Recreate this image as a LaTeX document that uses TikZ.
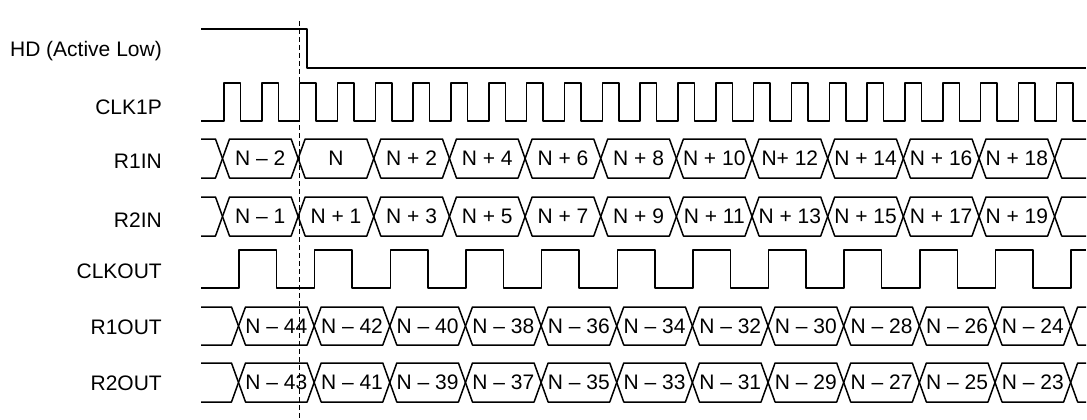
\documentclass[tikz,border=0pt]{standalone}
\usepackage{fontspec}
\setmainfont{Liberation Sans}
\usetikzlibrary{calc}

% one bus row: top, bottom, first crossing, node prefix, labels
\newcommand{\busrow}[5]{%
    \pgfmathsetmacro{\ym}{(#1+#2)/2}
    \draw[wave] (201, #1) -- ({#3-7}, #1) -- (#3, \ym) -- ({#3-7}, #2) -- (201, #2);
    \foreach \lab [count=\k from 0] in {#5} {
        \pgfmathsetmacro{\ca}{#3+75.65*\k}
        \pgfmathsetmacro{\cb}{\ca+75.65}
        \draw[wave] (\ca, \ym) -- ({\ca+7}, #1) -- ({\cb-7}, #1) -- (\cb, \ym) -- ({\cb-7}, #2) -- ({\ca+7}, #2) -- cycle;
        \node[buslbl] at ({(\ca+\cb)/2}, \ym) (#4-\k) {\lab};
    }
    \pgfmathsetmacro{\cz}{#3+75.65*11}
    \draw[wave] (1086, #1) -- ({\cz+7}, #1) -- (\cz, \ym) -- ({\cz+7}, #2) -- (1086, #2);
}

\tikzset{
    wave/.style={line width=1.5pt, line join=round},
    signame/.style={anchor=base east, inner sep=0pt, font=\fontsize{21}{25}\selectfont},
    buslbl/.style={inner sep=0pt, font=\fontsize{21}{25}\selectfont},
}

\begin{document}
\begin{tikzpicture}[x=1pt, y=-1pt]
    \useasboundingbox (0, 0) rectangle (1087, 420);

    \node[signame] at (162, 57)  (HD) {HD (Active Low)};
    \node[signame] at (162, 114) (CLK1P) {CLK1P};
    \node[signame] at (162, 168) (R1IN) {R1IN};
    \node[signame] at (162, 227) (R2IN) {R2IN};
    \node[signame] at (162, 278) (CLKOUT) {CLKOUT};
    \node[signame] at (162, 334) (R1OUT) {R1OUT};
    \node[signame] at (162, 390) (R2OUT) {R2OUT};

    % HD
    \draw[wave] (201, 29) -- (307, 29) -- (307, 68) -- (1086, 68);
    % CLK1P
    \draw[wave] (201, 121) \foreach \k in {0,...,22} { -- ({224+37.83*\k}, 121) -- ++(0, -38) -- ++(16.5, 0) -- ++(0, 38) } -- (1086, 121);
    % data in
    \busrow{139}{178}{222.5}{r1in}{N \textendash{} 2, N, N + 2, N + 4, N + 6, N + 8, N + 10, N+ 12, N + 14, N + 16, N + 18}
    \busrow{197}{236}{222.5}{r2in}{N \textendash{} 1, N + 1, N + 3, N + 5, N + 7, N + 9, N + 11, N + 13, N + 15, N + 17, N + 19}
    % CLKOUT
    \draw[wave] (201, 288) \foreach \k in {0,...,10} { -- ({239+75.65*\k}, 288) -- ++(0, -38) -- ++(37.5, 0) -- ++(0, 38) } -- (1071, 288) -- (1071, 250) -- (1086, 250);
    % data out
    \busrow{307}{345}{238.5}{r1out}{N \textendash{} 44, N \textendash{} 42, N \textendash{} 40, N \textendash{} 38, N \textendash{} 36, N \textendash{} 34, N \textendash{} 32, N \textendash{} 30, N \textendash{} 28, N \textendash{} 26, N \textendash{} 24}
    \busrow{363}{402}{238.5}{r2out}{N \textendash{} 43, N \textendash{} 41, N \textendash{} 39, N \textendash{} 37, N \textendash{} 35, N \textendash{} 33, N \textendash{} 31, N \textendash{} 29, N \textendash{} 27, N \textendash{} 25, N \textendash{} 23}

    % HD edge marker
    \draw[line width=1pt, dash pattern=on 5pt off 3pt] (299, 21) -- (299, 420);
\end{tikzpicture}
\end{document}
